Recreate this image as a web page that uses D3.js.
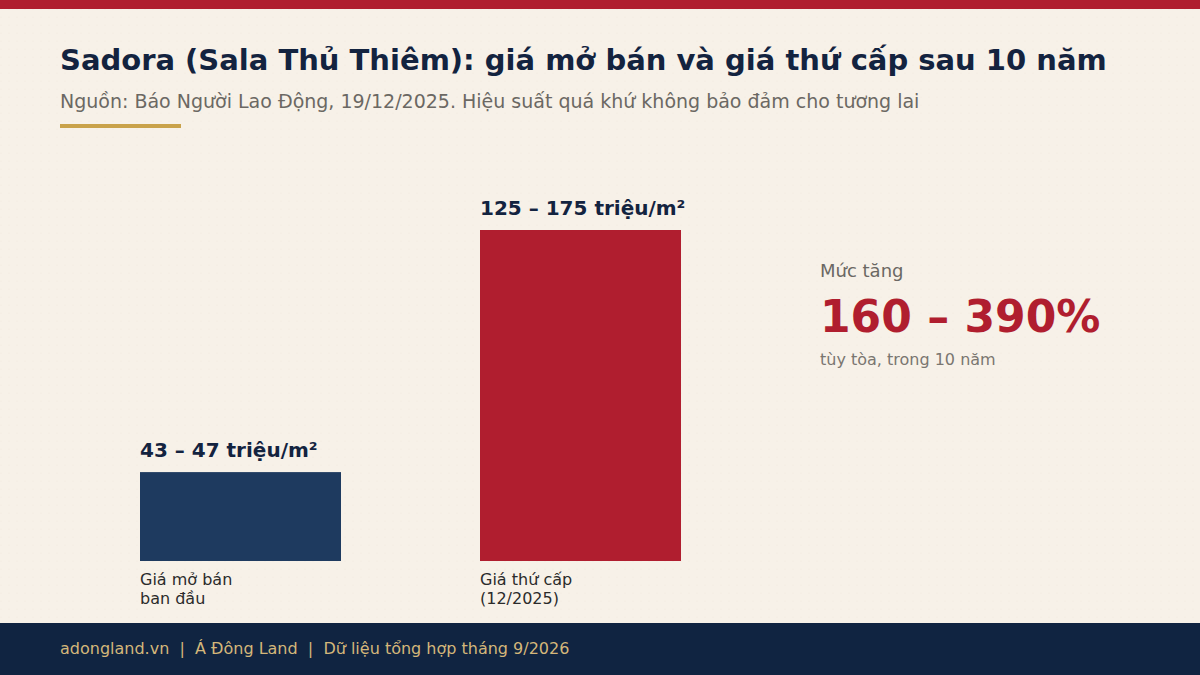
<!DOCTYPE html>
<html>
<head>
<meta charset="utf-8">
<script src="https://cdn.jsdelivr.net/npm/d3@7"></script>
<style>
  html, body { margin: 0; padding: 0; background: #f7f1e8; }
  svg { display: block; font-family: "DejaVu Sans", sans-serif; }
</style>
</head>
<body>
<svg id="chart" width="1200" height="675"></svg>
<script>
const categories = ["Giá mở bán\nban đầu", "Giá thứ cấp\n(12/2025)"];
const values = [47, 175];
const valueLabels = ["43 – 47 triệu/m²", "125 – 175 triệu/m²"];
const barColors = ["#1e3a5f", "#b01e2f"];

const svg = d3.select("#chart");
const W = 1200, H = 675;

// background with subtle dot pattern
const defs = svg.append("defs");
const pat = defs.append("pattern").attr("id", "dots").attr("width", 8).attr("height", 8)
  .attr("patternUnits", "userSpaceOnUse");
pat.append("circle").attr("cx", 1).attr("cy", 1).attr("r", 0.6).attr("fill", "#e9e0d2").attr("opacity", 0.6);
svg.append("rect").attr("width", W).attr("height", H).attr("fill", "#f7f1e8");
svg.append("rect").attr("width", W).attr("height", H).attr("fill", "url(#dots)");

// top bar
svg.append("rect").attr("x", 0).attr("y", 0).attr("width", W).attr("height", 9).attr("fill", "#b01e2f");

// title
svg.append("text").attr("x", 60).attr("y", 70)
  .attr("font-size", 29).attr("font-weight", "bold").attr("fill", "#13233f")
  .text("Sadora (Sala Thủ Thiêm): giá mở bán và giá thứ cấp sau 10 năm");
svg.append("text").attr("x", 60).attr("y", 108)
  .attr("font-size", 19).attr("fill", "#6b6863")
  .text("Nguồn: Báo Người Lao Động, 19/12/2025. Hiệu suất quá khứ không bảo đảm cho tương lai");
svg.append("rect").attr("x", 60).attr("y", 124).attr("width", 121).attr("height", 4).attr("fill", "#c9a24a");

// scales
const x = d3.scaleBand().domain(categories).range([140, 681]).paddingInner(139 / 340).paddingOuter(0);
const y = d3.scaleLinear().domain([0, 175]).range([561, 230]);

const g = svg.append("g");
g.selectAll("rect.bar").data(values).join("rect")
  .attr("class", "bar")
  .attr("x", (d, i) => x(categories[i]))
  .attr("y", d => y(d))
  .attr("width", x.bandwidth())
  .attr("height", d => y(0) - y(d))
  .attr("fill", (d, i) => barColors[i]);

g.selectAll("text.val").data(values).join("text")
  .attr("class", "val")
  .attr("x", (d, i) => x(categories[i]))
  .attr("y", d => y(d) - 15)
  .attr("font-size", 20).attr("font-weight", "bold").attr("fill", "#13233f")
  .text((d, i) => valueLabels[i]);

// category labels
categories.forEach((c, i) => {
  const t = g.append("text").attr("x", x(c)).attr("y", 585)
    .attr("font-size", 16).attr("fill", "#2b2b2b");
  c.split("\n").forEach((line, j) => {
    t.append("tspan").attr("x", x(c)).attr("dy", j === 0 ? 0 : 19).text(line);
  });
});

// right panel
svg.append("text").attr("x", 820).attr("y", 277).attr("font-size", 18).attr("fill", "#6b6863").text("Mức tăng");
svg.append("text").attr("x", 820).attr("y", 332).attr("font-size", 44).attr("font-weight", "bold").attr("fill", "#b01e2f").text("160 – 390%");
svg.append("text").attr("x", 820).attr("y", 365).attr("font-size", 16).attr("fill", "#7a7670").text("tùy tòa, trong 10 năm");

// footer
svg.append("rect").attr("x", 0).attr("y", 623).attr("width", W).attr("height", 52).attr("fill", "#102441");
svg.append("text").attr("x", 60).attr("y", 654).attr("font-size", 16).attr("fill", "#d4b77a")
  .text("adongland.vn  |  Á Đông Land  |  Dữ liệu tổng hợp tháng 9/2026")
  .style("white-space", "pre");
</script>
</body>
</html>
